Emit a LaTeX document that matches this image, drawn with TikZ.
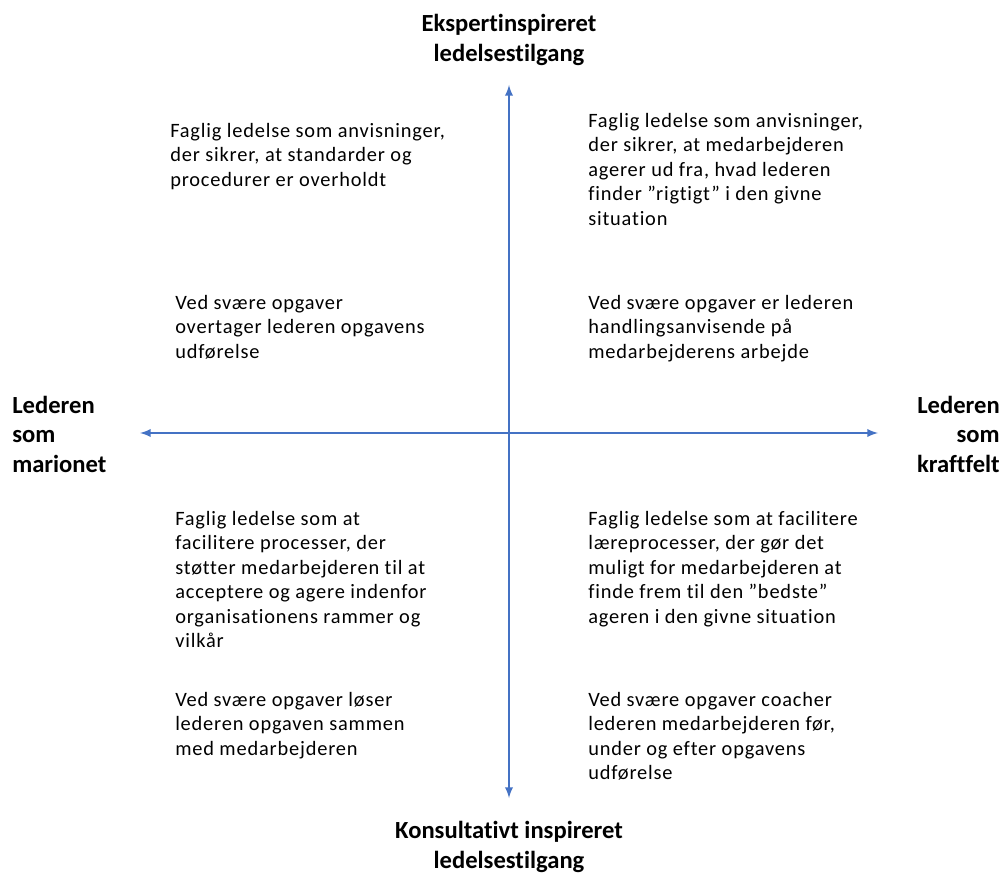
\documentclass[tikz,border=0pt]{standalone}
\usepackage{fontspec}
\setmainfont{Carlito}[Ligatures=NoCommon]
\newfontfamily\bodyfont{Carlito}[Ligatures=NoCommon, LetterSpace=4]
\usetikzlibrary{arrows}
\definecolor{axisblue}{RGB}{68,114,196}

\begin{document}
\begin{tikzpicture}[x=0.025cm, y=-0.025cm, >=latex,
  txt/.style={anchor=north west, inner sep=0pt, align=left, font=\bodyfont\fontsize{14.5}{17.4}\selectfont},
  lbl/.style={inner sep=0pt, font=\fontsize{17.5}{21}\selectfont\bfseries},
  axis/.style={draw=axisblue, line width=1.6pt}]
  \useasboundingbox (0,0) rectangle (1005,873);

  % Axis ends
  \coordinate (N) at (509,85);
  \coordinate (S) at (509,798);
  \coordinate (W) at (140,433);
  \coordinate (E) at (878,433);

  % Axis labels
  \node[lbl, align=center] (top) at (509,40) {Ekspertinspireret\\ledelsestilgang};
  \node[lbl, align=center] (bottom) at (509,847) {Konsultativt inspireret\\ledelsestilgang};
  \node[lbl, align=left, anchor=west] (left) at (12,434) {Lederen\\som\\marionet};
  \node[lbl, align=right, anchor=east] (right) at (1000,434) {Lederen\\som\\kraftfelt};

  % Quadrant texts
  \node[txt] (TL1) at (170,123) {Faglig ledelse som anvisninger,\\der sikrer, at standarder og\\procedurer er overholdt};
  \node[txt] (TR1) at (588,113) {Faglig ledelse som anvisninger,\\der sikrer, at medarbejderen\\agerer ud fra, hvad lederen\\finder ”rigtigt” i den givne\\situation};
  \node[txt] (TL2) at (175,295) {Ved svære opgaver\\overtager lederen opgavens\\udførelse};
  \node[txt] (TR2) at (588,295) {Ved svære opgaver er lederen\\handlingsanvisende på\\medarbejderens arbejde};
  \node[txt] (BL1) at (175,511) {Faglig ledelse som at\\facilitere processer, der\\støtter medarbejderen til at\\acceptere og agere indenfor\\organisationens rammer og\\vilkår};
  \node[txt] (BR1) at (588,511) {Faglig ledelse som at facilitere\\læreprocesser, der gør det\\muligt for medarbejderen at\\finde frem til den ”bedste”\\ageren i den givne situation};
  \node[txt] (BL2) at (175,692) {Ved svære opgaver løser\\lederen opgaven sammen\\med medarbejderen};
  \node[txt] (BR2) at (588,692) {Ved svære opgaver coacher\\lederen medarbejderen før,\\under og efter opgavens\\udførelse};

  % Axes
  \draw[axis, <->] (S) -- (N);
  \draw[axis, <->] (W) -- (E);
\end{tikzpicture}
\end{document}
